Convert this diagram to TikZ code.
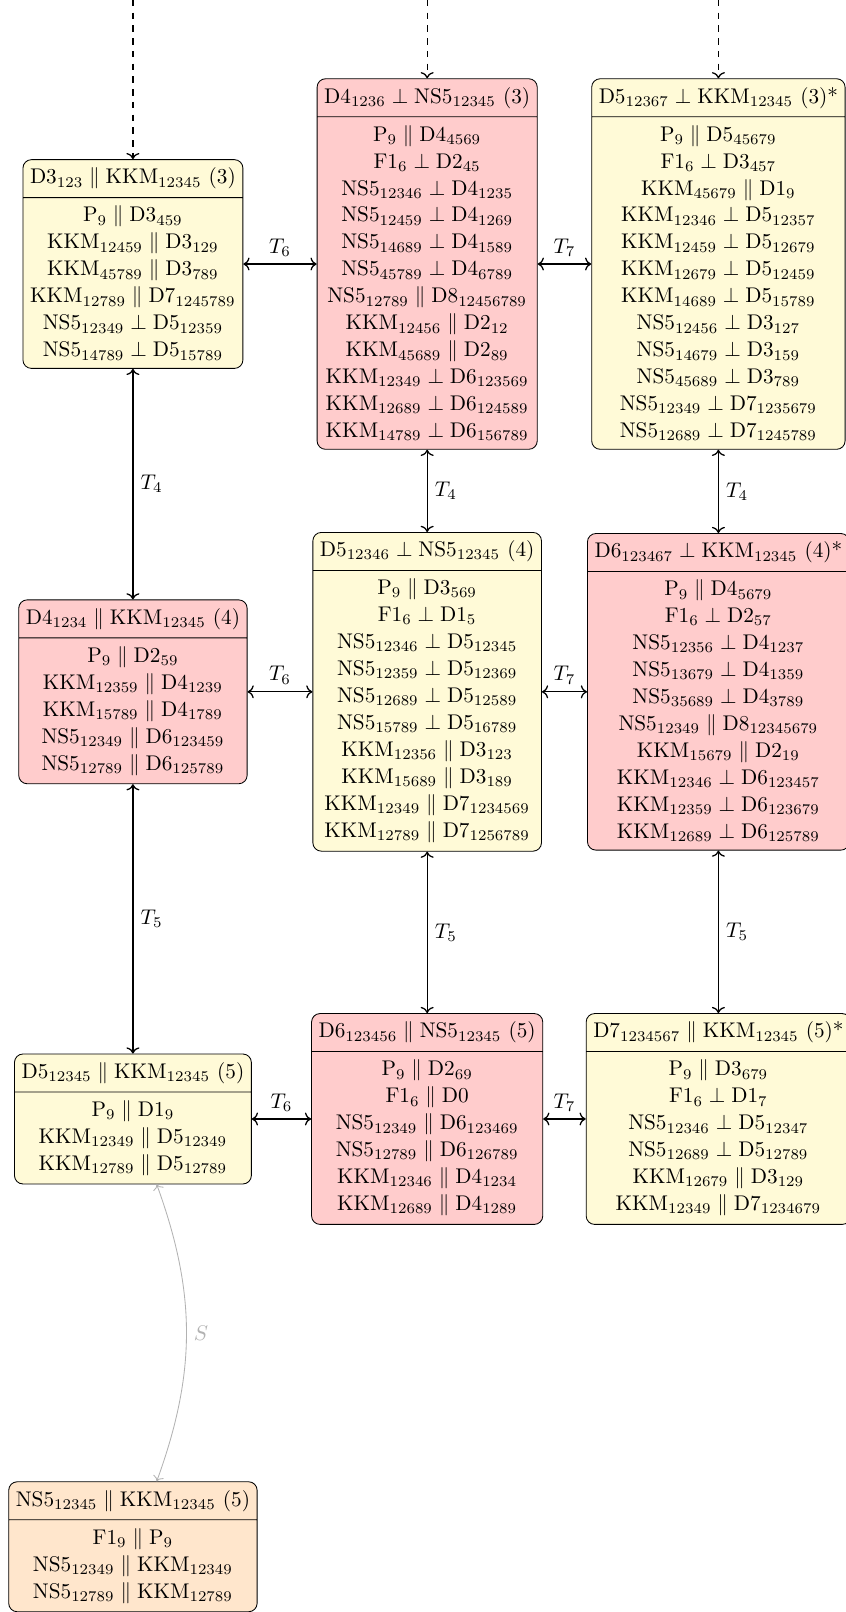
\documentclass[tikz,border=0pt]{standalone}
\usepackage{amsmath}
\usepackage{amssymb}
\usetikzlibrary{shapes, arrows.meta, positioning, calc}
\definecolor{colOdd}{RGB}{255, 250, 215}
\definecolor{colEven}{RGB}{255, 204, 204}
\definecolor{colNS}{RGB}{255, 230, 204}
\newcommand{\Pll}{${}\parallel{}$}
\newcommand{\Ppd}{${}\perp{}$}

\begin{document}
\begin{tikzpicture}[
    every node/.style={font=\normalsize},
    brane/.style={rectangle split, rectangle split parts=2, draw, rounded corners, align=center,
        font=\fontsize{10}{12.7}\selectfont, inner ysep=3.75pt},
    link/.style={<->, semithick},
    flow/.style={->, semithick, dashed}
]
    \useasboundingbox (0, 0) rectangle (14, -26.68);

    % Stufe (3)
    \node[brane, fill=colOdd] (a3) at (2.20, -4.37) {D3$_{123}$\Pll KKM$_{12345}$ (3)
        \nodepart{two} P$_9$\Pll D3$_{459}$\\ KKM$_{12459}$\Pll D3$_{129}$\\ KKM$_{45789}$\Pll D3$_{789}$\\
        KKM$_{12789}$\Pll D7$_{1245789}$\\ NS5$_{12349}$\Ppd D5$_{12359}$\\ NS5$_{14789}$\Ppd D5$_{15789}$};
    \node[brane, fill=colEven] (b3) at (7.07, -4.37) {D4$_{1236}$\Ppd NS5$_{12345}$ (3)
        \nodepart{two} P$_9$\Pll D4$_{4569}$\\ F1$_6$\Ppd D2$_{45}$\\ NS5$_{12346}$\Ppd D4$_{1235}$\\
        NS5$_{12459}$\Ppd D4$_{1269}$\\ NS5$_{14689}$\Ppd D4$_{1589}$\\ NS5$_{45789}$\Ppd D4$_{6789}$\\
        NS5$_{12789}$\Pll D8$_{12456789}$\\ KKM$_{12456}$\Pll D2$_{12}$\\ KKM$_{45689}$\Pll D2$_{89}$\\
        KKM$_{12349}$\Ppd D6$_{123569}$\\ KKM$_{12689}$\Ppd D6$_{124589}$\\ KKM$_{14789}$\Ppd D6$_{156789}$};
    \node[brane, fill=colOdd] (c3) at (11.89, -4.37) {D5$_{12367}$\Ppd KKM$_{12345}$ (3)*
        \nodepart{two} P$_9$\Pll D5$_{45679}$\\ F1$_6$\Ppd D3$_{457}$\\ KKM$_{45679}$\Pll D1$_9$\\
        KKM$_{12346}$\Ppd D5$_{12357}$\\ KKM$_{12459}$\Ppd D5$_{12679}$\\ KKM$_{12679}$\Ppd D5$_{12459}$\\
        KKM$_{14689}$\Ppd D5$_{15789}$\\ NS5$_{12456}$\Ppd D3$_{127}$\\ NS5$_{14679}$\Ppd D3$_{159}$\\
        NS5$_{45689}$\Ppd D3$_{789}$\\ NS5$_{12349}$\Ppd D7$_{1235679}$\\ NS5$_{12689}$\Ppd D7$_{1245789}$};

    % Stufe (4)
    \node[brane, fill=colEven] (a4) at (2.20, -11.45) {D4$_{1234}$\Pll KKM$_{12345}$ (4)
        \nodepart{two} P$_9$\Pll D2$_{59}$\\ KKM$_{12359}$\Pll D4$_{1239}$\\ KKM$_{15789}$\Pll D4$_{1789}$\\
        NS5$_{12349}$\Pll D6$_{123459}$\\ NS5$_{12789}$\Pll D6$_{125789}$};
    \node[brane, fill=colOdd] (b4) at (7.07, -11.45) {D5$_{12346}$\Ppd NS5$_{12345}$ (4)
        \nodepart{two} P$_9$\Pll D3$_{569}$\\ F1$_6$\Ppd D1$_5$\\ NS5$_{12346}$\Ppd D5$_{12345}$\\
        NS5$_{12359}$\Ppd D5$_{12369}$\\ NS5$_{12689}$\Ppd D5$_{12589}$\\ NS5$_{15789}$\Ppd D5$_{16789}$\\
        KKM$_{12356}$\Pll D3$_{123}$\\ KKM$_{15689}$\Pll D3$_{189}$\\
        KKM$_{12349}$\Pll D7$_{1234569}$\\ KKM$_{12789}$\Pll D7$_{1256789}$};
    \node[brane, fill=colEven] (c4) at (11.89, -11.45) {D6$_{123467}$\Ppd KKM$_{12345}$ (4)*
        \nodepart{two} P$_9$\Pll D4$_{5679}$\\ F1$_6$\Ppd D2$_{57}$\\ NS5$_{12356}$\Ppd D4$_{1237}$\\
        NS5$_{13679}$\Ppd D4$_{1359}$\\ NS5$_{35689}$\Ppd D4$_{3789}$\\ NS5$_{12349}$\Pll D8$_{12345679}$\\
        KKM$_{15679}$\Pll D2$_{19}$\\ KKM$_{12346}$\Ppd D6$_{123457}$\\
        KKM$_{12359}$\Ppd D6$_{123679}$\\ KKM$_{12689}$\Ppd D6$_{125789}$};

    % Stufe (5)
    \node[brane, fill=colOdd] (a5) at (2.20, -18.52) {D5$_{12345}$\Pll KKM$_{12345}$ (5)
        \nodepart{two} P$_9$\Pll D1$_9$\\ KKM$_{12349}$\Pll D5$_{12349}$\\ KKM$_{12789}$\Pll D5$_{12789}$};
    \node[brane, fill=colEven] (b5) at (7.07, -18.52) {D6$_{123456}$\Pll NS5$_{12345}$ (5)
        \nodepart{two} P$_9$\Pll D2$_{69}$\\ F1$_6$\Pll D0\\ NS5$_{12349}$\Pll D6$_{123469}$\\
        NS5$_{12789}$\Pll D6$_{126789}$\\ KKM$_{12346}$\Pll D4$_{1234}$\\ KKM$_{12689}$\Pll D4$_{1289}$};
    \node[brane, fill=colOdd] (c5) at (11.89, -18.52) {D7$_{1234567}$\Pll KKM$_{12345}$ (5)*
        \nodepart{two} P$_9$\Pll D3$_{679}$\\ F1$_6$\Ppd D1$_7$\\ NS5$_{12346}$\Ppd D5$_{12347}$\\
        NS5$_{12689}$\Ppd D5$_{12789}$\\ KKM$_{12679}$\Pll D3$_{129}$\\ KKM$_{12349}$\Pll D7$_{1234679}$};

    % NS5 || KKM
    \node[brane, fill=colNS] (ns) at (2.20, -25.60) {NS5$_{12345}$\Pll KKM$_{12345}$ (5)
        \nodepart{two} F1$_9$\Pll P$_9$\\ NS5$_{12349}$\Pll KKM$_{12349}$\\ NS5$_{12789}$\Pll KKM$_{12789}$};

    % Zufluss von oben
    \foreach \n/\x in {a3/2.20, b3/7.07, c3/11.89} {
        \coordinate (top-\n) at (\x, 0);
        \draw[flow] (top-\n) -- (\n);
    }

    % T-Dualitaeten
    \foreach \r in {3,4,5} {
        \draw[link] (a\r) -- node[above] {$T_6$} (b\r);
        \draw[link] (b\r) -- node[above] {$T_7$} (c\r);
    }
    \foreach \col in {a,b,c} {
        \draw[link] (\col3) -- node[right] {$T_4$} (\col4);
        \draw[link] (\col4) -- node[right] {$T_5$} (\col5);
    }

    % S-Dualitaet
    \draw[<->, gray!60] (a5) to[bend left=20] node[right] {$S$} (ns);
\end{tikzpicture}
\end{document}
